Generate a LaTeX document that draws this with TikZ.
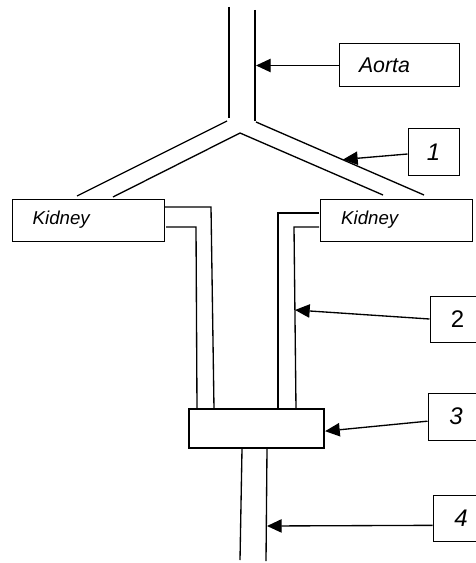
\documentclass[tikz,border=0pt]{standalone}
\usepackage{fontspec}
\setsansfont{Liberation Sans}
\usetikzlibrary{arrows.meta,positioning,calc}

\tikzset{
  organ/.style={draw, line width=0.75pt, minimum height=31.5pt, text width=83pt,
    inner xsep=15.5pt, align=left, font=\sffamily\itshape\fontsize{14}{16}\selectfont},
  tag/.style={draw, line width=0.75pt, inner sep=0pt, font=\sffamily\itshape\fontsize{18}{20}\selectfont},
  vessel/.style={line width=1pt},
  pointer/.style={line width=1pt, -{Triangle[length=11pt,width=10pt]}}
}

\begin{document}
\begin{tikzpicture}[x=0.75pt, y=-0.75pt]
    \useasboundingbox (0,0) rectangle (475,563);

    % Aorta and branches
    \draw[vessel] (229,7) -- (229,118);
    \draw[vessel] (255,10) -- (255,121);
    \draw[vessel] (227,121) -- (77,196);
    \draw[vessel] (256,122) -- (424,195);
    \draw[vessel] (113,197) -- (240,133) -- (383,195);

    % Kidneys
    \node[organ] (kidL) at (88,220) {Kidney};
    \node[organ] (kidR) at (396.5,220) {Kidney};

    % Ureters
    \draw[vessel] (165,207) -- (211,207) -- (214,409);
    \draw[vessel] (166,227) -- (196,227) -- (197,409);
    \draw[vessel] (319,213) -- (278,213) -- (278,409);
    \draw[vessel] (319,227) -- (294,227) -- (296,409);

    % Bladder and urethra
    \node[draw, line width=1.6pt, minimum width=101.25pt, minimum height=29.25pt] (bladder) at (256.5,428.5) {};
    \draw[vessel] (242,449) -- (240,560);
    \draw[vessel] (267,449) -- (266,561);

    % Labels
    \node[organ, font=\sffamily\itshape\fontsize{16}{18}\selectfont, minimum height=32.25pt,
      text width=60pt, inner xsep=15pt] (aorta) at (399,65.5) {Aorta};
    \node[tag, minimum width=38.25pt, minimum height=34.5pt] (b1) at (433.5,152) {1};
    \node[tag, font=\sffamily\fontsize{18}{20}\selectfont, minimum width=41.25pt, minimum height=34.5pt] (b2) at (457.5,319) {2};
    \node[tag, minimum width=42pt, minimum height=35.25pt] (b3) at (456,416.5) {3};
    \node[tag, minimum width=42pt, minimum height=34.5pt] (b4) at (461,518) {4};

    \coordinate (pA) at (256,65.5);
    \coordinate (p1) at (343,159.5);
    \coordinate (p2) at (295,310);
    \coordinate (p4) at (267,526);

    \draw[pointer] (aorta.west) -- (pA);
    \draw[pointer] ([yshift=-1.5pt]b1.west) -- (p1);
    \draw[pointer] (b2.west) -- (p2);
    \draw[pointer] ([yshift=-3.5pt]b3.west) -- ([yshift=-2pt]bladder.east);
    \draw[pointer] ([yshift=-5.5pt]b4.west) -- (p4);
\end{tikzpicture}
\end{document}
